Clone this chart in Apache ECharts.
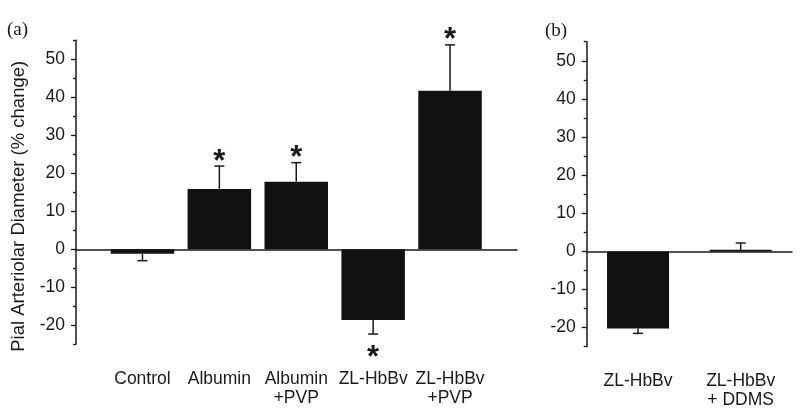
<!DOCTYPE html>
<html><head><meta charset="utf-8">
<script src="https://cdn.jsdelivr.net/npm/echarts@6/dist/echarts.min.js"></script>
<style>html,body{margin:0;padding:0;background:#fff}#c{width:800px;height:413px}</style>
</head><body><div id="c"></div>
<script>
// ---- data ----
const categoriesA = ['Control', 'Albumin', 'Albumin\n+PVP', 'ZL-HbBv', 'ZL-HbBv\n+PVP'];
const valuesA = [-1.2, 15.9, 17.8, -18.6, 41.7];
const errorsA = [1.8, 6.0, 5.0, 3.7, 12.1];
const significantA = [0, 1, 1, 1, 1];
const categoriesB = ['ZL-HbBv', 'ZL-HbBv\n+ DDMS'];
const valuesB = [-20.2, 0.4];
const errorsB = [1.3, 1.8];
const significantB = [0, 0];
const yMin = -25, yMax = 55;
const majorTicks = [-20, -10, 0, 10, 20, 30, 40, 50];
const minorTicks = [-25, -15, -5, 5, 15, 25, 35, 45, 55];
const yTitle = 'Pial Arteriolar Diameter (% change)';

// ---- styling ----
const INK = '#1a1a1a';
const FONT = '"Liberation Sans", Arial, sans-serif';
const BAR = '#111111';

function frameY(gridIndex, withName) {
  const main = {
    type: 'value', gridIndex, min: yMin, max: yMax, interval: 5, position: 'left',
    axisLine: { show: true, onZero: false, lineStyle: { color: INK, width: 1.5 } },
    axisTick: { show: true, customValues: majorTicks, length: 5, lineStyle: { color: INK, width: 1.3 } },
    axisLabel: { show: true, customValues: majorTicks, margin: 11, color: INK, fontFamily: FONT, fontSize: 17.5 },
    splitLine: { show: false }
  };
  if (withName) {
    main.name = yTitle;
    main.nameLocation = 'middle';
    main.nameGap = 40;
    main.nameTextStyle = { color: INK, fontFamily: FONT, fontSize: 18.5, padding: [0, 28, 0, 0] };
  }
  const minor = {
    type: 'value', gridIndex, min: yMin, max: yMax, interval: 5, position: 'left', offset: 0,
    axisLine: { show: false, onZero: false },
    axisTick: { show: true, customValues: minorTicks, length: 3, lineStyle: { color: INK, width: 1.3 } },
    axisLabel: { show: false },
    splitLine: { show: false }
  };
  return [main, minor];
}

function catX(gridIndex, data) {
  return {
    type: 'category', gridIndex, data, position: 'bottom',
    axisLine: { show: false, onZero: false },
    axisTick: { show: false },
    axisLabel: { color: INK, fontFamily: FONT, fontSize: 17.5, lineHeight: 19, margin: 25, interval: 0 },
    splitLine: { show: false }
  };
}

function zeroX(gridIndex) {
  return {
    type: 'value', gridIndex, min: 0, max: 1, position: 'top',
    axisLine: { show: true, onZero: true, lineStyle: { color: INK, width: 1.5 } },
    axisTick: { show: false }, axisLabel: { show: false }, splitLine: { show: false }
  };
}

function errorRender(params, api) {
  const i = api.value(0), v = api.value(1), e = api.value(2), sig = api.value(3);
  const end = v >= 0 ? v + e : v - e;
  const p0 = api.coord([i, v]);
  const p1 = api.coord([i, end]);
  const ls = { stroke: INK, lineWidth: 1.5 };
  const children = [
    { type: 'line', shape: { x1: p0[0], y1: p0[1], x2: p1[0], y2: p1[1] }, style: ls },
    { type: 'line', shape: { x1: p1[0] - 5, y1: p1[1], x2: p1[0] + 5, y2: p1[1] }, style: ls }
  ];
  if (sig) {
    children.push({
      type: 'text',
      style: {
        text: '*', x: p1[0], y: p1[1] + (v >= 0 ? -4 : 24),
        fill: INK, font: 'bold 31px ' + FONT, textAlign: 'center', textVerticalAlign: 'middle'
      }
    });
  }
  return { type: 'group', children };
}

const yA = frameY(0, true);
const yB = frameY(2, false);

const option = {
  animation: false,
  backgroundColor: '#fff',
  grid: [
    { left: 76, top: 40.3, width: 441, height: 304 },
    { left: 104, top: 40.3, width: 384.5, height: 304 },
    { left: 586.7, top: 41.7, width: 205.3, height: 305 }
  ],
  xAxis: [zeroX(0), catX(1, categoriesA), catX(2, categoriesB), zeroX(2)],
  yAxis: [
    yA[0], yA[1],
    { type: 'value', gridIndex: 1, min: yMin, max: yMax, show: false, axisLine: { onZero: false } },
    yB[0], yB[1]
  ],
  graphic: [
    { type: 'text', left: 7, top: 21, style: { text: '(a)', fill: INK, font: '19px "Liberation Serif", "Times New Roman", serif' } },
    { type: 'text', left: 545, top: 22, style: { text: '(b)', fill: INK, font: '19px "Liberation Serif", "Times New Roman", serif' } }
  ],
  series: [
    { type: 'bar', xAxisIndex: 1, yAxisIndex: 2, data: valuesA, barWidth: 63.5, itemStyle: { color: BAR }, z: 2 },
    { type: 'custom', xAxisIndex: 1, yAxisIndex: 2, renderItem: errorRender, z: 3,
      data: categoriesA.map((c, i) => [i, valuesA[i], errorsA[i], significantA[i]]) },
    { type: 'bar', xAxisIndex: 2, yAxisIndex: 3, data: valuesB, barWidth: 62, itemStyle: { color: BAR }, z: 2 },
    { type: 'custom', xAxisIndex: 2, yAxisIndex: 3, renderItem: errorRender, z: 3,
      data: categoriesB.map((c, i) => [i, valuesB[i], errorsB[i], significantB[i]]) }
  ]
};

const chart = echarts.init(document.getElementById('c'), null, { renderer: 'canvas' });
chart.setOption(option);
</script>
</body></html>
